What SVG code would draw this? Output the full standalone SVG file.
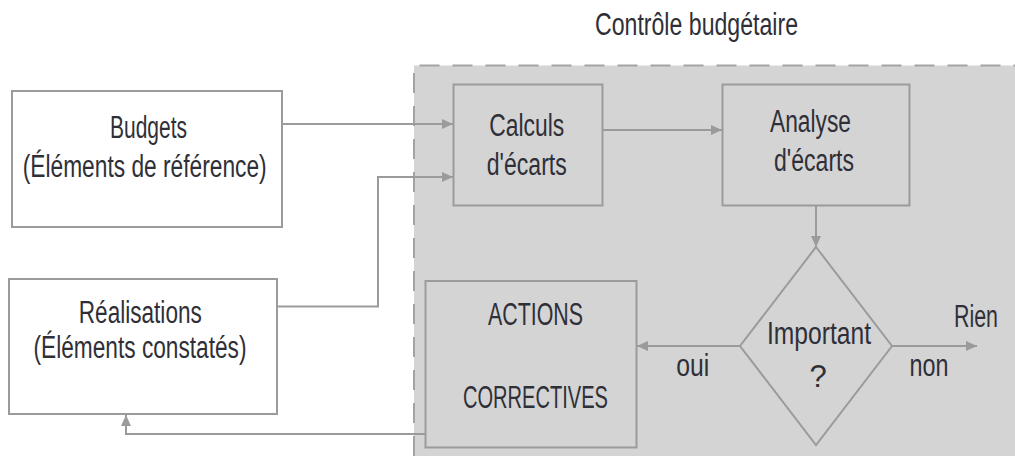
<svg xmlns="http://www.w3.org/2000/svg" width="1015" height="456" viewBox="0 0 1015 456">
<style>
.t{font-family:"Liberation Sans Narrow","Liberation Sans",Arial,sans-serif;font-size:31px;fill:#2f2f38;text-anchor:middle}
.box{stroke:#9b9b9b;stroke-width:2}
.w{fill:#fff}
.g{fill:#d4d4d4}
.c{fill:none;stroke:#9b9b9b;stroke-width:2}
</style>
<defs>
<marker id="ah" markerUnits="userSpaceOnUse" markerWidth="12" markerHeight="10" refX="11" refY="5" orient="auto">
<path d="M0,0 L11,5 L0,10 z" fill="#9b9b9b"/>
</marker>
</defs>
<rect width="1015" height="456" fill="#fff"/>
<g id="zone">
<rect x="414" y="65.5" width="601" height="391" fill="#d4d4d4"/>
<path d="M414 456 V65.5 H1015" fill="none" stroke="#a3a3a3" stroke-width="2" stroke-dasharray="20 13"/>
<text class="t" x="696.5" y="35" textLength="203" lengthAdjust="spacingAndGlyphs">Contrôle budgétaire</text>
</g>
<g id="budgets">
<rect class="box w" x="12" y="91" width="270" height="136"/>
<text class="t" x="148.5" y="138" textLength="77" lengthAdjust="spacingAndGlyphs">Budgets</text>
<text class="t" x="144.7" y="177" textLength="244" lengthAdjust="spacingAndGlyphs">(Éléments de référence)</text>
</g>
<g id="realisations">
<rect class="box w" x="9" y="279" width="268" height="135"/>
<text class="t" x="140.3" y="323" textLength="123" lengthAdjust="spacingAndGlyphs">Réalisations</text>
<text class="t" x="140" y="358" textLength="213" lengthAdjust="spacingAndGlyphs">(Éléments constatés)</text>
</g>
<g id="calculs">
<rect class="box g" x="453.5" y="84.5" width="149" height="121"/>
<text class="t" x="526.7" y="136" textLength="75" lengthAdjust="spacingAndGlyphs">Calculs</text>
<text class="t" x="526.8" y="175" textLength="80" lengthAdjust="spacingAndGlyphs">d'écarts</text>
</g>
<g id="analyse">
<rect class="box g" x="722.5" y="84.5" width="187" height="121"/>
<text class="t" x="810.5" y="132" textLength="81" lengthAdjust="spacingAndGlyphs">Analyse</text>
<text class="t" x="814" y="170.5" textLength="80" lengthAdjust="spacingAndGlyphs">d'écarts</text>
</g>
<g id="important">
<path class="box g" d="M816 247 L892 346 L816 445 L740 346 Z"/>
<text class="t" x="819" y="344" textLength="104" lengthAdjust="spacingAndGlyphs">Important</text>
<text class="t" x="818" y="386.5">?</text>
</g>
<g id="actions">
<rect class="box g" x="425.5" y="281" width="211" height="166.5"/>
<text class="t" x="535.5" y="325" textLength="95" lengthAdjust="spacingAndGlyphs">ACTIONS</text>
<text class="t" x="535.5" y="408" textLength="145" lengthAdjust="spacingAndGlyphs">CORRECTIVES</text>
</g>
<g id="connectors">
<path class="c" d="M282 124 H453" marker-end="url(#ah)"/>
<path class="c" d="M277 306.5 H378 V177 H453" marker-end="url(#ah)"/>
<path class="c" d="M603 130 H722" marker-end="url(#ah)"/>
<path class="c" d="M816 206 V247" marker-end="url(#ah)"/>
<path class="c" d="M740 346 H637" marker-end="url(#ah)"/>
<path class="c" d="M892 346 H977" marker-end="url(#ah)"/>
<path class="c" d="M426 434 H126 V415" marker-end="url(#ah)"/>
<text class="t" x="692.7" y="376" textLength="33" lengthAdjust="spacingAndGlyphs">oui</text>
<text class="t" x="929" y="376" textLength="39" lengthAdjust="spacingAndGlyphs">non</text>
<text class="t" x="976" y="326.5" textLength="44" lengthAdjust="spacingAndGlyphs">Rien</text>
</g>
</svg>
